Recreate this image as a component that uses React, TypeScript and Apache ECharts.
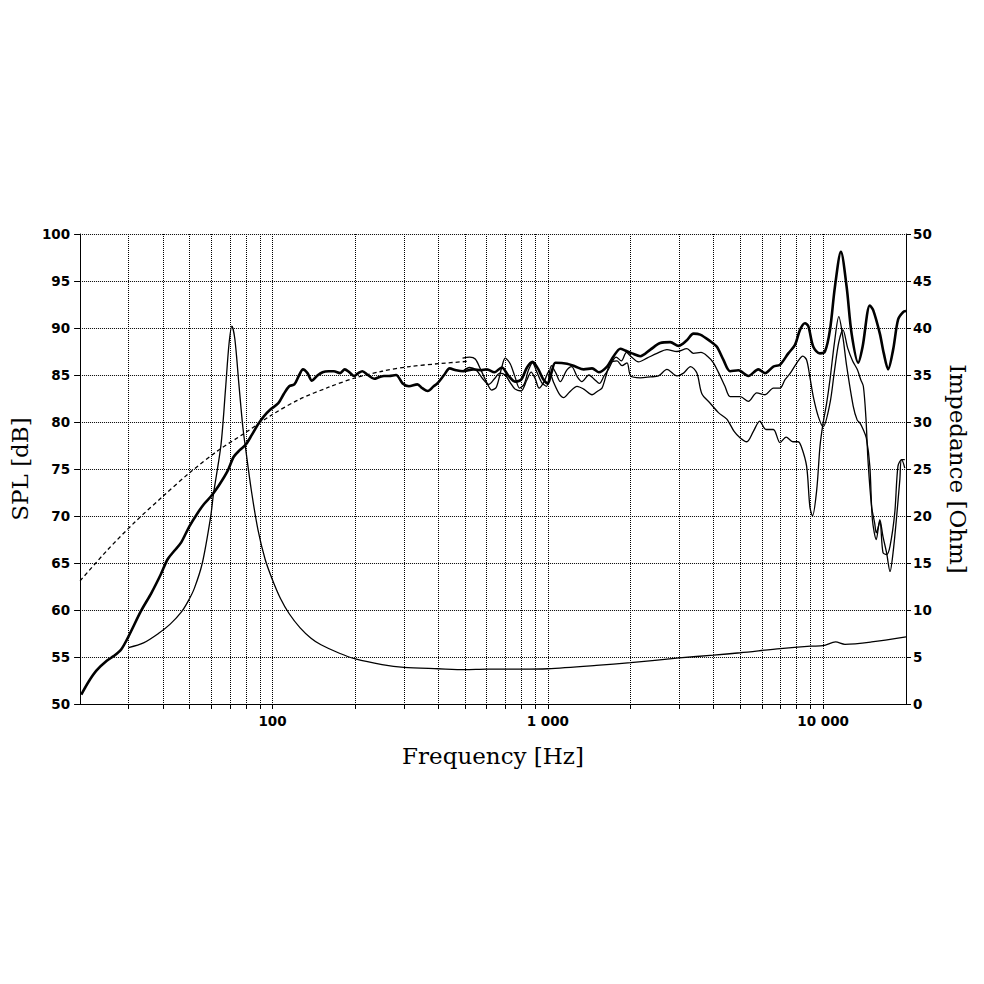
import React, { useEffect, useRef } from "react";
import * as echarts from "echarts";

// Frequency grid (Hz) and tick labels
const gridFreqs = [
  30, 40, 50, 60, 70, 80, 90,
  100, 200, 300, 400, 500, 600, 700, 800, 900,
  1000, 2000, 3000, 4000, 5000, 6000, 7000, 8000, 9000,
  10000,
];
const freqLabels = [100, 1000, 10000];

// SPL on axis, 0 deg (thick) [Hz, dB]
const splAxis: [number, number][] = [
  [20.2, 51.0], [21.5, 52.4], [23, 53.6], [25, 54.6], [26.5, 55.1], [28.2, 55.8],
  [30, 57.2], [33.3, 59.9], [36.3, 61.8], [39.3, 63.8], [41.6, 65.4], [44, 66.3],
  [46.6, 67.2], [49.9, 68.9], [53.4, 70.3], [56.5, 71.3], [59.8, 72.1], [64, 73.3],
  [68.7, 74.8], [72.3, 76.3], [76, 77.0], [80, 77.6], [84, 78.6], [88.4, 79.7],
  [93, 80.6], [98, 81.3], [105, 82.0], [110, 83.0], [115, 83.8], [120, 84.0],
  [125, 85.0], [129, 85.6], [134, 85.2], [139, 84.4], [145, 84.9], [152, 85.3],
  [160, 85.4], [167, 85.4], [176, 85.2], [183, 85.6], [190, 85.3], [198, 84.9],
  [205, 85.2], [212, 85.4], [222, 85.0], [234, 84.6], [245, 84.8], [254, 84.9],
  [265, 84.9], [281, 85.0], [297, 84.1], [313, 83.8], [336, 84.0], [350, 83.6],
  [366, 83.3], [385, 83.8], [397, 84.1], [420, 85.0], [440, 85.7], [465, 85.5],
  [494, 85.4], [536, 85.6], [570, 85.5], [600, 85.6], [640, 85.3], [680, 85.8],
  [720, 84.9], [760, 84.3], [800, 84.5], [840, 85.8], [880, 86.4], [920, 85.7],
  [960, 84.6], [1000, 84.1], [1030, 85.2], [1066, 86.3], [1175, 86.2], [1259, 85.9],
  [1350, 85.6], [1448, 85.7], [1530, 85.3], [1641, 85.9], [1734, 87.0], [1834, 87.8],
  [1911, 87.6], [2022, 87.3], [2167, 87.0], [2357, 87.7], [2561, 88.4], [2783, 88.5],
  [2984, 88.1], [3200, 88.7], [3382, 89.4], [3575, 89.3], [3888, 88.6], [4111, 88.0],
  [4344, 86.6], [4594, 85.4], [4924, 85.5], [5354, 84.9], [5816, 85.6], [6152, 85.2],
  [6595, 85.9], [6973, 86.1], [7474, 87.3], [7904, 88.2], [8240, 89.8], [8593, 90.5],
  [8834, 90.2], [9210, 88.0], [9740, 87.3], [10155, 87.5], [10590, 89.8], [11040, 94.4],
  [11604, 98.1], [12170, 94.4], [12690, 89.4], [13410, 86.3], [13910, 88.0], [14780, 92.4],
  [15200, 91.9], [16070, 89.4], [16610, 87.3], [17220, 85.6], [17960, 87.7], [18720, 90.9],
  [19520, 91.7], [20000, 91.8],
];

// SPL off axis, first angle (thin) [Hz, dB]
const splOff1: [number, number][] = [
  [490, 86.8], [520, 86.9], [545, 86.7], [570, 85.6], [600, 84.2], [625, 83.4],
  [650, 83.7], [680, 85.8], [700, 86.8], [730, 86.2], [760, 84.8], [790, 83.6],
  [820, 84.0], [850, 85.5], [880, 86.3], [910, 85.4], [950, 84.2], [990, 83.8],
  [1030, 86.0], [1070, 85.2], [1110, 84.3], [1170, 85.5], [1220, 85.9], [1280, 84.8],
  [1330, 84.3], [1410, 85.0], [1480, 84.5], [1540, 84.1], [1600, 84.9], [1660, 85.6],
  [1720, 86.5], [1770, 86.9], [1850, 86.5], [1930, 87.4], [2000, 87.0], [2136, 86.4],
  [2292, 86.8], [2491, 87.3], [2708, 87.7], [2944, 87.5], [3200, 87.8], [3382, 87.3],
  [3600, 87.4], [3800, 87.0], [3996, 86.3], [4226, 84.9], [4400, 83.8], [4594, 82.7],
  [5000, 82.7], [5354, 82.2], [5738, 83.1], [6152, 82.9], [6595, 83.6], [6973, 83.6],
  [7270, 84.5], [7600, 85.2], [8030, 86.3], [8440, 87.0], [8710, 86.6], [8950, 84.8],
  [9210, 82.7], [9600, 80.6], [10000, 79.5], [10590, 82.0], [11000, 85.5], [11400, 88.5],
  [11800, 89.8], [12300, 87.8], [12800, 86.5], [13300, 85.6], [13700, 84.5], [14000, 83.8],
  [14300, 80.5], [14570, 75.7], [15000, 71.0], [15400, 69.2], [15600, 68.2], [16070, 69.4],
  [16500, 66.1], [17000, 65.9], [17500, 66.8], [18200, 70.3], [18700, 75.3], [19260, 76.0],
  [19800, 75.1],
];

// SPL off axis, second angle (thin) [Hz, dB]
const splOff2: [number, number][] = [
  [490, 85.4], [520, 85.8], [550, 85.5], [580, 84.6], [610, 84.0], [640, 84.6],
  [670, 85.2], [700, 85.0], [730, 84.2], [760, 83.5], [800, 83.3], [840, 84.5],
  [870, 85.3], [900, 84.6], [930, 83.6], [970, 84.3], [1010, 85.4], [1050, 84.2],
  [1100, 83.0], [1142, 82.6], [1200, 83.2], [1277, 83.8], [1350, 83.5], [1448, 82.9],
  [1520, 83.3], [1573, 83.6], [1630, 85.0], [1687, 86.3], [1784, 86.5], [1860, 86.0],
  [1940, 86.3], [2000, 84.9], [2167, 84.7], [2357, 84.8], [2524, 84.9], [2708, 85.6],
  [2944, 84.9], [3110, 85.2], [3300, 85.9], [3479, 85.2], [3627, 83.0], [3888, 82.0],
  [4166, 81.0], [4469, 80.3], [4750, 79.0], [5000, 78.3], [5280, 77.9], [5580, 79.0],
  [5885, 80.1], [6200, 79.2], [6595, 79.2], [6973, 77.8], [7340, 78.4], [7760, 77.9],
  [8100, 77.9], [8330, 77.4], [8710, 75.3], [8950, 71.0], [9150, 70.0], [9480, 72.8],
  [9740, 77.4], [10000, 79.9], [10300, 82.0], [10590, 84.5], [11000, 88.5], [11400, 91.2],
  [11800, 89.0], [12170, 86.0], [12860, 81.7], [13300, 80.2], [13600, 79.9], [13980, 79.2],
  [14350, 78.3], [14780, 75.3], [15100, 69.6], [15600, 67.5], [16070, 69.6], [16500, 67.8],
  [17000, 66.1], [17500, 64.1], [17950, 66.1], [18450, 69.6], [19000, 73.9], [19260, 76.0],
  [19800, 76.0],
];

// Simulated / baffle low-frequency response (dashed) [Hz, dB]
const splSim: [number, number][] = [
  [20, 63.1], [25, 66.3], [31.5, 69.3], [40, 72.1], [50, 74.6], [63, 76.9],
  [80, 78.9], [100, 80.8], [125, 82.4], [160, 83.7], [200, 84.7], [250, 85.4],
  [315, 85.9], [400, 86.2], [510, 86.45],
];

// Impedance [Hz, Ohm]
const impedance: [number, number][] = [
  [30, 6.0], [34, 6.5], [38.5, 7.5], [42.5, 8.5], [46.7, 9.8], [49.5, 11.0],
  [52, 12.3], [55.6, 15.0], [59.6, 19.9], [61, 22.3], [65, 27.6], [67.5, 33.5],
  [69.5, 38.3], [71.2, 40.2], [73, 38.8], [75.5, 34.0], [78, 29.5], [80, 27.0],
  [84, 22.5], [88.6, 18.5], [94, 15.4], [100, 13.2], [107, 11.2], [115, 9.6],
  [126, 8.1], [138, 7.0], [150, 6.3], [175, 5.4], [200, 4.8], [250, 4.2],
  [300, 3.9], [400, 3.75], [500, 3.65], [600, 3.7], [800, 3.7], [1000, 3.75],
  [1500, 4.1], [2000, 4.4], [3000, 4.9], [4000, 5.2], [5000, 5.45], [7000, 5.9],
  [9000, 6.15], [10000, 6.2], [11100, 6.6], [12000, 6.35], [15000, 6.6], [20000, 7.15],
];

const fmtThousands = (v: number) =>
  String(Math.round(v)).replace(/\B(?=(\d{3})+(?!\d))/g, " ");

export default function App() {
  const ref = useRef<HTMLDivElement>(null);

  useEffect(() => {
    if (!ref.current) return;
    const chart = echarts.init(ref.current, undefined, { renderer: "svg" });
    const labelStyle = {
      color: "#000",
      fontFamily: "DejaVu Sans",
      fontSize: 13.5,
      fontWeight: "bold" as const,
    };
    const nameStyle = {
      color: "#000",
      fontFamily: "DejaVu Serif",
      fontSize: 23,
    };
    const dotted = { color: "#000", width: 1, type: [1, 1] as number[] };
    const solid = { color: "#000", width: 1 };
    const line = (
      name: string,
      data: [number, number][],
      width: number,
      yAxisIndex = 0,
      type: any = "solid"
    ) => ({
      name,
      type: "line",
      data,
      yAxisIndex,
      showSymbol: false,
      symbol: "none",
      smooth: 0.3,
      silent: true,
      lineStyle: { color: "#000", width, type },
      z: 3,
    });

    chart.setOption({
      animation: false,
      backgroundColor: "#fff",
      grid: { left: 78, right: 78, top: 234, bottom: 280, containLabel: false },
      xAxis: {
        type: "log",
        logBase: 10,
        min: 20,
        max: 20000,
        name: "Frequency [Hz]",
        nameLocation: "middle",
        nameGap: 40,
        nameTextStyle: nameStyle,
        axisLine: { show: true, lineStyle: solid },
        axisTick: { show: true, length: 5, customValues: gridFreqs, lineStyle: solid },
        axisLabel: {
          ...labelStyle,
          margin: 10,
          customValues: freqLabels,
          formatter: (v: number) => fmtThousands(v),
        },
        splitLine: { show: true, lineStyle: dotted },
        minorTick: { show: false },
        minorSplitLine: { show: false },
      },
      yAxis: [
        {
          type: "value",
          min: 50,
          max: 100,
          interval: 5,
          position: "left",
          name: "SPL [dB]",
          nameLocation: "middle",
          nameGap: 49,
          nameRotate: 90,
          nameTextStyle: nameStyle,
          axisLine: { show: true, lineStyle: solid },
          axisTick: { show: true, length: 6, lineStyle: solid },
          axisLabel: { ...labelStyle, margin: 10 },
          splitLine: { show: true, lineStyle: dotted },
        },
        {
          type: "value",
          min: 0,
          max: 50,
          interval: 5,
          position: "right",
          name: "Impedance [Ohm]",
          nameLocation: "middle",
          nameGap: 40,
          nameRotate: -90,
          nameTextStyle: nameStyle,
          axisLine: { show: true, lineStyle: solid },
          axisTick: { show: true, length: 5, lineStyle: solid },
          axisLabel: { ...labelStyle, margin: 7 },
          splitLine: { show: false },
        },
      ],
      series: [
        line("Simulated", splSim, 1.3, 0, [4, 3]),
        line("Impedance", impedance, 1.3, 1),
        line("Off axis 2", splOff2, 1.3),
        line("Off axis 1", splOff1, 1.3),
        line("On axis", splAxis, 2.6),
      ],
    });
    return () => chart.dispose();
  }, []);

  return (
    <div
      ref={ref}
      style={{
        position: "fixed",
        left: 0,
        top: 0,
        width: 984,
        height: 984,
        background: "#fff",
      }}
    />
  );
}
